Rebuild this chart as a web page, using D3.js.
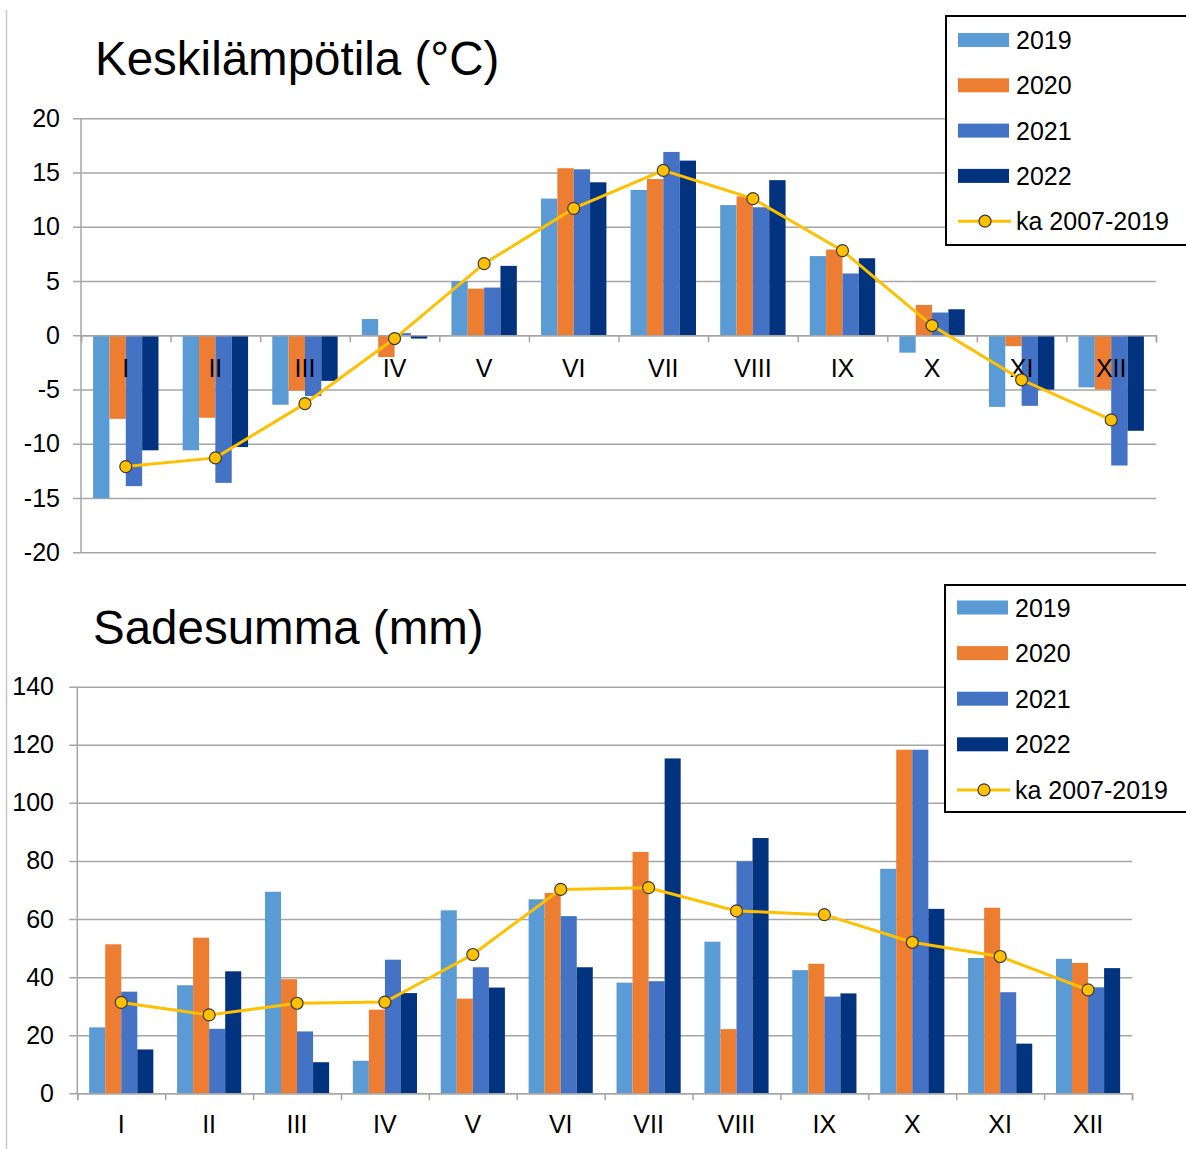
<!DOCTYPE html>
<html><head><meta charset="utf-8">
<script src="https://cdn.jsdelivr.net/npm/d3@7"></script>
<style>
html,body{margin:0;padding:0;background:#fff;}
svg{display:block;font-family:"Liberation Sans",Arial,sans-serif;}
</style></head>
<body>
<svg id="c" width="1186" height="1149"></svg>
<script>
const months = ["I","II","III","IV","V","VI","VII","VIII","IX","X","XI","XII"];
const seriesNames = ["2019","2020","2021","2022"];
const avgName = "ka 2007-2019";
const colors = ["#5B9BD5","#ED7D31","#4472C4","#01337F"];
const lineColor = "#FFC000";

// Keskilämpötila (°C)
const temp2019 = [-15.0,-10.6,-6.4,1.5,5.0,12.6,13.4,12.0,7.3,-1.6,-6.6,-4.8];
const temp2020 = [-7.7,-7.6,-5.1,-2.0,4.3,15.4,14.4,12.8,7.9,2.8,-1.0,-5.0];
const temp2021 = [-13.9,-13.6,-5.6,0.2,4.4,15.3,16.9,11.8,5.7,2.1,-6.5,-12.0];
const temp2022 = [-10.6,-10.3,-4.2,-0.3,6.4,14.1,16.1,14.3,7.1,2.4,-5.0,-8.8];
const tempAvg  = [-12.1,-11.3,-6.3,-0.3,6.6,11.7,15.2,12.6,7.8,0.9,-4.1,-7.8];
const tempTicks = [-20,-15,-10,-5,0,5,10,15,20];

// Sadesumma (mm)
const rain2019 = [22.7,37.2,69.4,11.2,63.0,66.8,38.1,52.2,42.4,77.3,46.6,46.3];
const rain2020 = [51.3,53.6,39.3,28.8,32.6,69.0,83.1,22.1,44.6,118.3,63.9,44.9];
const rain2021 = [35.0,22.2,21.3,46.0,43.4,61.0,38.6,79.9,33.3,118.3,34.8,36.5];
const rain2022 = [15.1,42.0,10.7,34.5,36.4,43.4,115.3,87.9,34.4,63.5,17.1,43.1];
const rainAvg  = [31.3,27.0,31.0,31.4,47.8,70.2,70.8,62.8,61.5,52.0,47.1,35.6];
const rainTicks = [0,20,40,60,80,100,120,140];

const svg = d3.select("#c");
const gridColor = "#A6A6A6";

// outer frame line
svg.append("line").attr("x1",6.5).attr("x2",6.5).attr("y1",10).attr("y2",1149)
  .attr("stroke","#C8C8C8").attr("stroke-width",1.5);

function drawChart(cfg){
  const {title, titleX, titleY, left, right, top, bottom, domain, ticks, series, avg,
         tickLabelEnd, catLabelY, legendBox} = cfg;
  const g = svg.append("g");
  const y = d3.scaleLinear().domain(domain).range([bottom, top]);
  const x0 = d3.scaleBand().domain(months).range([left, right]).paddingInner(0.27).paddingOuter(0.135);
  const x1 = d3.scaleBand().domain(seriesNames).range([0, x0.bandwidth()]);
  const xb = d3.scaleLinear().domain([0, months.length]).range([left, right]);

  // title
  g.append("text").attr("x", titleX).attr("y", titleY).attr("font-size", 47.5)
    .attr("fill","#000").text(title);

  // y grid + labels
  const yAxis = d3.axisLeft(y).tickValues(ticks).tickSize(right - left + 8)
    .tickPadding(right - tickLabelEnd - (right - left + 8)).tickFormat(d => String(d));
  const ya = g.append("g").attr("transform", `translate(${right},0)`).call(yAxis);
  ya.select(".domain").remove();
  ya.selectAll(".tick line").attr("stroke", gridColor).attr("stroke-width", 1.5);
  ya.selectAll(".tick text").attr("font-size", 25).attr("fill","#000")
    .attr("font-family","'Liberation Sans',Arial,sans-serif");
  // y axis line
  g.append("line").attr("x1", left).attr("x2", left).attr("y1", y(domain[1])).attr("y2", y(domain[0]))
    .attr("stroke", gridColor).attr("stroke-width", 1.5);

  // bars
  months.forEach((m, i) => {
    series.forEach((arr, s) => {
      const v = arr[i];
      g.append("rect")
        .attr("x", x0(m) + x1(seriesNames[s]))
        .attr("width", x1.bandwidth())
        .attr("y", Math.min(y(v), y(0)))
        .attr("height", Math.abs(y(v) - y(0)))
        .attr("fill", colors[s]);
    });
  });

  // x axis (category boundaries)
  const xAxis = d3.axisBottom(xb).tickValues(d3.range(0, months.length + 1)).tickSize(7)
    .tickSizeOuter(7).tickFormat("");
  const xa = g.append("g").attr("transform", `translate(0,${y(0)})`).call(xAxis);
  xa.select(".domain").attr("stroke", gridColor).attr("stroke-width", 1.5);
  xa.selectAll(".tick line").attr("stroke", gridColor).attr("stroke-width", 1.5);

  // category labels
  g.selectAll(".cat").data(months).enter().append("text")
    .attr("x", d => x0(d) + x0.bandwidth() / 2)
    .attr("y", catLabelY)
    .attr("text-anchor", "middle").attr("font-size", 25).attr("fill", "#000")
    .text(d => d);

  // average line
  const line = d3.line().x((d, i) => x0(months[i]) + x0.bandwidth() / 2).y(d => y(d));
  g.append("path").datum(avg).attr("d", line).attr("fill", "none")
    .attr("stroke", lineColor).attr("stroke-width", 3);
  g.selectAll(".pt").data(avg).enter().append("circle")
    .attr("cx", (d, i) => x0(months[i]) + x0.bandwidth() / 2)
    .attr("cy", d => y(d)).attr("r", 6)
    .attr("fill", lineColor).attr("stroke", "#3A3A3A").attr("stroke-width", 1.2);

  // legend
  const L = legendBox;
  const lg = svg.append("g");
  lg.append("rect").attr("x", L.x).attr("y", L.y).attr("width", 260).attr("height", L.h)
    .attr("fill", "#fff").attr("stroke", "#000").attr("stroke-width", 2);
  const names = seriesNames.concat([avgName]);
  names.forEach((n, i) => {
    const cy = L.y + L.first + i * L.step;
    if (i < seriesNames.length) {
      lg.append("rect").attr("x", L.x + 12).attr("y", cy - 7).attr("width", 51).attr("height", 14)
        .attr("fill", colors[i]);
    } else {
      lg.append("line").attr("x1", L.x + 12).attr("x2", L.x + 65).attr("y1", cy).attr("y2", cy)
        .attr("stroke", lineColor).attr("stroke-width", 3);
      lg.append("circle").attr("cx", L.x + 39).attr("cy", cy).attr("r", 6)
        .attr("fill", lineColor).attr("stroke", "#3A3A3A").attr("stroke-width", 1.2);
    }
    lg.append("text").attr("x", L.x + 70).attr("y", cy + 9).attr("font-size", 25)
      .attr("fill", "#000").text(n);
  });
}

drawChart({
  title: "Keskilämpötila (°C)", titleX: 95, titleY: 75,
  left: 81, right: 1156, top: 118.3, bottom: 552.3, domain: [-20, 20], ticks: tempTicks,
  series: [temp2019, temp2020, temp2021, temp2022], avg: tempAvg,
  tickLabelEnd: 60, catLabelY: 377,
  legendBox: {x: 946, y: 16, h: 229, first: 24, step: 45.3}
});

drawChart({
  title: "Sadesumma (mm)", titleX: 93, titleY: 644,
  left: 77.3, right: 1132, top: 686.7, bottom: 1093.3, domain: [0, 140], ticks: rainTicks,
  series: [rain2019, rain2020, rain2021, rain2022], avg: rainAvg,
  tickLabelEnd: 54, catLabelY: 1133,
  legendBox: {x: 945, y: 585, h: 227, first: 22.5, step: 45.6}
});
</script>
</body></html>
